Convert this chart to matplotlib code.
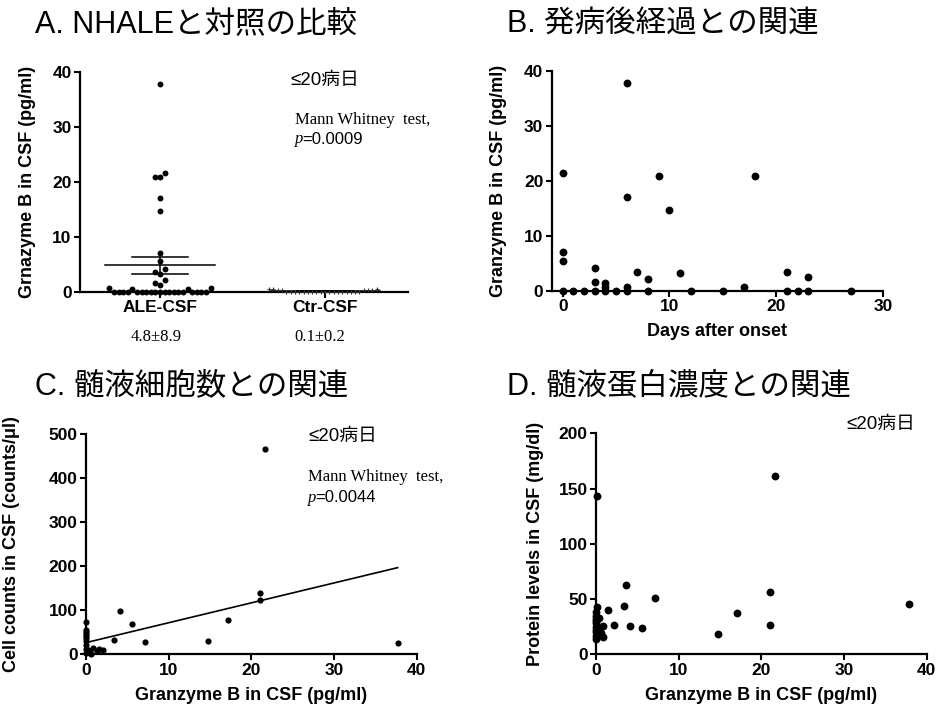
import numpy as np
import matplotlib
matplotlib.use("Agg")
import matplotlib.pyplot as plt

# ---------------- data ----------------
groups = ["ALE-CSF", "Ctr-CSF"]
ale_values = [37.7, 21.5, 20.9, 20.9, 17.1, 14.7, 7.1, 5.5, 4.1, 3.5, 3.3, 2.1,
              1.5, 1.3, 0.7, 0.5, 0.5, 0.7] + [0.0] * 19
ctr_values = [0.5, 0.4, 0.4, 0.5, 0.3, 0.4, 0.5, 0.4] + [0.0] * 18
ale_mean, ale_sd, ale_n = 4.8, 8.9, 33
ctr_mean, ctr_sd, ctr_n = 0.1, 0.2, 26
group_labels = ["4.8±8.9", "0.1±0.2"]

days = [0, 0, 0, 0, 1, 2, 3, 3, 3, 4, 4, 4, 5, 6, 6, 6, 6, 7, 8, 8, 9, 10, 11,
        12, 15, 17, 18, 21, 21, 22, 23, 23, 27]
gzb_days = [21.5, 7.0, 5.4, 0, 0, 0, 4.1, 1.6, 0, 1.5, 0.8, 0, 0, 37.7, 17.1, 0.7,
            0, 3.5, 2.1, 0, 20.9, 14.7, 3.3, 0, 0, 0.8, 20.9, 3.5, 0, 0, 2.5, 0, 0]

cell_gzb = [21.6, 21.0, 21.0, 4.1, 5.6, 17.2, 3.4, 7.1, 14.7, 37.7, 0, 0, 0, 0, 0,
            0, 0, 0, 0, 0, 0.1, 0.3, 0.5, 0.8, 1.3, 2.1, 0.6, 1.6]
cell_counts = [467, 140, 123, 99, 69, 77, 33, 29, 30, 26, 74, 55, 50, 46, 42, 37,
               30, 22, 12, 3, 6, 9, 4, 14, 8, 10, 1, 11]
fit_x = [0.0, 37.7]
fit_y = [26.5, 196.7]

prot_gzb = [21.6, 0.1, 3.6, 21.0, 7.1, 3.4, 37.8, 0.1, 1.5, 17.1, 2.2, 4.1, 5.6,
            21.0, 14.7, 0.8, 0.8, 0.6, 0, 0, 0, 0, 0, 0, 0, 0, 0, 0, 0.3, 0.4]
prot_levels = [161, 143.5, 62.5, 56.5, 50.5, 43.5, 45.5, 43, 40.5, 37.5, 26.5, 25.5,
               23.5, 26.5, 18.5, 26, 15.5, 19, 38, 35, 32, 30, 28, 25, 22, 20, 17,
               14, 24, 33]

# ---------------- figure ----------------
W, H = 936, 709
plt.rcParams['font.family'] = ['Liberation Sans', 'Noto Sans CJK JP', 'DejaVu Sans']
fig = plt.figure(figsize=(W / 100, H / 100), dpi=100)


def axes_px(l, t, r, b):
    return fig.add_axes([l / W, 1 - b / H, (r - l) / W, (b - t) / H])


def fx(px):
    return px / W


def fy(py):
    return 1 - py / H


def style(ax):
    for s in ['top', 'right']:
        ax.spines[s].set_visible(False)
    for s in ['left', 'bottom']:
        ax.spines[s].set_linewidth(1.6)
    ax.tick_params(direction='out', length=4, width=1.5, labelsize=12.5, pad=2)
    for lab in ax.get_xticklabels() + ax.get_yticklabels():
        lab.set_fontweight('bold')


def swarm(values, center, xppu, yppu, step_px, dist_px):
    order = np.argsort(values, kind='stable')
    placed = []
    xs = np.zeros(len(values))
    for i in order:
        v = values[i]
        k = 0
        while True:
            for sgn in ([0] if k == 0 else [-1, 1]):
                off = sgn * k * step_px
                ok = all((off - px) ** 2 + ((v - pv) * yppu) ** 2 >= dist_px ** 2
                         for px, pv in placed)
                if ok:
                    break
            if ok:
                break
            k += 1
        placed.append((off, v))
        xs[i] = center + off / xppu
    return xs


ax_label_kw = dict(fontsize=13, fontweight='bold')

# ---------- Panel A ----------
axA = axes_px(80, 71.7, 408, 291.7)
axA.set_xlim(0.515, 2.503)
axA.set_ylim(0, 40)
xppu = 165.0
yppu = 220 / 40
xa = swarm(ale_values, 1, xppu, yppu, 4.6, 4.6)
xc = swarm(ctr_values, 2, xppu, yppu, 4.3, 3.0)
axA.scatter(xa, ale_values, s=18, color='black', clip_on=False, zorder=3, linewidths=0)
axA.scatter(xc, ctr_values, s=10, marker='+', color='#333333', clip_on=False,
            zorder=3, linewidths=0.8)
for c, m, sd, n in [(1, ale_mean, ale_sd, ale_n), (2, ctr_mean, ctr_sd, ctr_n)]:
    sem = sd / np.sqrt(n)
    axA.plot([c - 0.333, c + 0.333], [m, m], color='black', lw=1.1, zorder=2)
    axA.plot([c - 0.167, c + 0.167], [m + sem, m + sem], color='black', lw=1.1, zorder=2)
    axA.plot([c - 0.167, c + 0.167], [m - sem, m - sem], color='black', lw=1.1, zorder=2)
    axA.plot([c, c], [m - sem, m + sem], color='black', lw=1.1, zorder=2)
axA.set_xticks([1, 2])
axA.set_xticklabels(groups)
axA.set_yticks([0, 10, 20, 30, 40])
style(axA)
axA.set_ylabel("Grnazyme B in CSF (pg/ml)", **ax_label_kw)
axA.yaxis.set_label_coords(-0.135, 0.5)

fig.text(fx(156), fy(337), group_labels[0], ha='center', va='center',
         family='Liberation Serif', fontsize=12)
fig.text(fx(320), fy(337), group_labels[1], ha='center', va='center',
         family='Liberation Serif', fontsize=12)

# ---------- Panel B ----------
axB = axes_px(551.7, 70.7, 883, 291)
axB.scatter(days, gzb_days, s=32, color='black', clip_on=False, zorder=3, linewidths=0)
axB.set_xlim(-1.03, 30)
axB.set_ylim(0, 40)
axB.set_xticks([0, 10, 20, 30])
axB.set_yticks([0, 10, 20, 30, 40])
style(axB)
axB.set_ylabel("Granzyme B in CSF (pg/ml)", **ax_label_kw)
axB.yaxis.set_label_coords(-0.135, 0.5)
axB.set_xlabel("Days after onset", **ax_label_kw)
axB.xaxis.set_label_coords(0.5, -0.143)

# ---------- Panel C ----------
axC = axes_px(86, 434, 416.7, 654.3)
axC.scatter(cell_gzb, cell_counts, s=20, color='black', clip_on=False, zorder=3,
            linewidths=0)
axC.plot(fit_x, fit_y, color='black', lw=1.2, zorder=2)
axC.set_xlim(0, 40)
axC.set_ylim(0, 500)
axC.set_xticks([0, 10, 20, 30, 40])
axC.set_yticks([0, 100, 200, 300, 400, 500])
style(axC)
axC.set_ylabel("Cell counts in CSF (counts/μl)", **ax_label_kw)
axC.yaxis.set_label_coords(-0.2, 0.5)
axC.set_xlabel("Granzyme B in CSF (pg/ml)", **ax_label_kw)
axC.xaxis.set_label_coords(0.5, -0.148)

# ---------- Panel D ----------
axD = axes_px(596, 433.3, 926.7, 654.3)
axD.scatter(prot_gzb, prot_levels, s=32, color='black', clip_on=False, zorder=3,
            linewidths=0)
axD.set_xlim(0, 40)
axD.set_ylim(0, 200)
axD.set_xticks([0, 10, 20, 30, 40])
axD.set_yticks([0, 50, 100, 150, 200])
style(axD)
axD.set_ylabel("Protein levels in CSF (mg/dl)", **ax_label_kw)
axD.yaxis.set_label_coords(-0.158, 0.5)
axD.set_xlabel("Granzyme B in CSF (pg/ml)", **ax_label_kw)
axD.xaxis.set_label_coords(0.5, -0.148)

# ---------- titles and annotations ----------
title_kw = dict(fontsize=22, ha='left', va='baseline')
fig.text(fx(35), fy(32), "A. NHALEと対照の比較", **title_kw)
fig.text(fx(507), fy(32), "B. 発病後経過との関連", **title_kw)
fig.text(fx(35), fy(394), "C. 髄液細胞数との関連", **title_kw)
fig.text(fx(507), fy(394), "D. 髄液蛋白濃度との関連", **title_kw)

note_kw = dict(fontsize=13.5, ha='left', va='center')
fig.text(fx(290), fy(80), "≤20病日", **note_kw)
fig.text(fx(308), fy(436), "≤20病日", **note_kw)
fig.text(fx(846), fy(425), "≤20病日", **note_kw)

serif_kw = dict(family='Liberation Serif', fontsize=12, ha='left', va='center')
fig.text(fx(295), fy(120), "Mann Whitney  test,", **serif_kw)
fig.text(fx(308), fy(477), "Mann Whitney  test,", **serif_kw)
for (x0, y0, pv) in [(295, 139, "=0.0009"), (308, 498, "=0.0044")]:
    fig.text(fx(x0), fy(y0), "p", family='Liberation Serif', style='italic',
             fontsize=12, ha='left', va='center')
    fig.text(fx(x0 + 7), fy(y0), pv, family='Liberation Sans', fontsize=12,
             ha='left', va='center')

fig.savefig("out.png", dpi=100)
